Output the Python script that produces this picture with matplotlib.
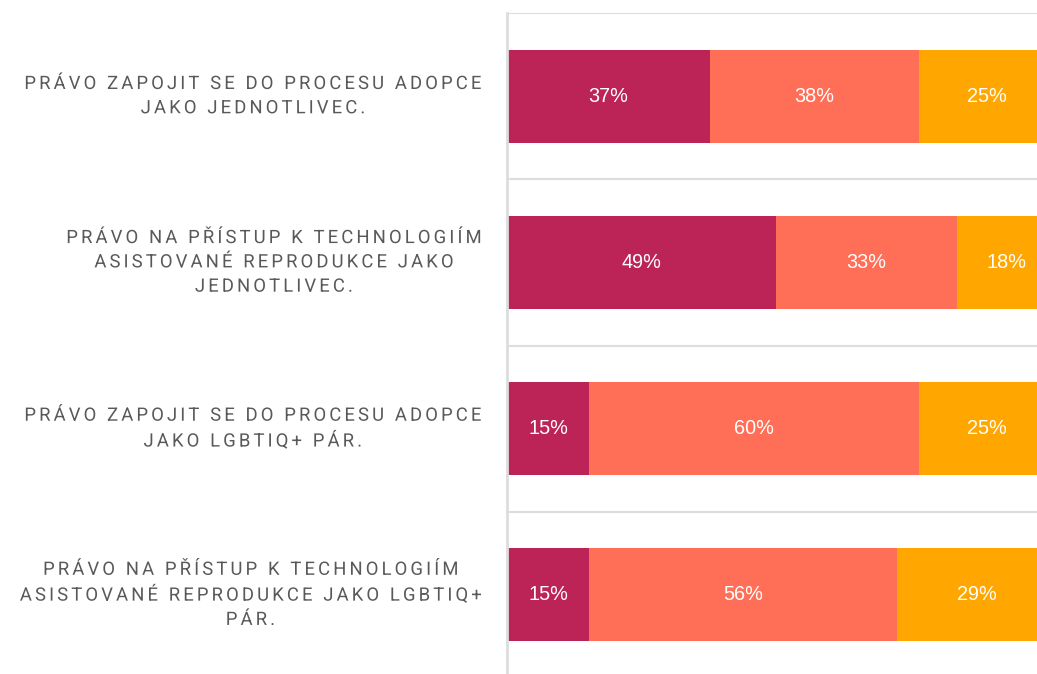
import matplotlib
matplotlib.use("Agg")
import matplotlib.pyplot as plt
import numpy as np
from matplotlib.patheffects import AbstractPathEffect
from matplotlib.path import Path
from matplotlib.transforms import IdentityTransform

categories = [
    "PRÁVO ZAPOJIT SE DO PROCESU ADOPCE\nJAKO JEDNOTLIVEC.",
    "PRÁVO NA PŘÍSTUP K TECHNOLOGIÍM\nASISTOVANÉ REPRODUKCE JAKO\nJEDNOTLIVEC.",
    "PRÁVO ZAPOJIT SE DO PROCESU ADOPCE\nJAKO LGBTIQ+ PÁR.",
    "PRÁVO NA PŘÍSTUP K TECHNOLOGIÍM\nASISTOVANÉ REPRODUKCE JAKO LGBTIQ+\nPÁR.",
]
series_a = [37, 49, 15, 15]
series_b = [38, 33, 60, 56]
series_c = [25, 18, 25, 29]
series_colors = ["#BC2458", "#FF6F57", "#FFA600"]


class LetterSpacing(AbstractPathEffect):
    """Draws a (right-aligned, centre-multialigned) text with extra letter spacing."""

    def __init__(self, lines, track_px):
        super().__init__()
        self.lines = lines
        self.track = track_px
        self.prop = None

    def draw_path(self, renderer, gc, tpath, affine, rgbFace=None):
        try:
            self._draw(renderer, gc, tpath, affine, rgbFace)
        except Exception:
            renderer.draw_path(gc, tpath, affine, rgbFace)

    def _draw(self, renderer, gc, tpath, affine, rgbFace):
        t2p = renderer._text2path
        font = t2p._get_font(self.prop)
        vt = np.asarray(tpath.vertices)
        found = None
        for line in self.lines:
            ginfo, gmap, _ = t2p.get_glyphs_with_font(font, line)
            vs, idx = [], []
            for i, (gid, xp, yp, sc) in enumerate(ginfo):
                v1 = np.asarray(gmap[gid][0], dtype=float)
                if len(v1):
                    vs.append(v1 * sc + [xp, yp])
                    idx.append(np.full(len(v1), i))
            if not vs:
                continue
            vs = np.concatenate(vs)
            idx = np.concatenate(idx)
            if vs.shape == vt.shape and np.allclose(vs, vt, atol=1e-4):
                found = (line, idx)
                break
        if found is None:
            renderer.draw_path(gc, tpath, affine, rgbFace)
            return
        line, idx = found
        t = self.track
        ws = [renderer.get_text_width_height_descent(l, self.prop, ismath=False)[0]
              for l in self.lines]
        W = max(ws)
        Wp = max(w + len(l) * t for w, l in zip(ws, self.lines))
        dx = -(Wp - W) / 2 - len(line) * t / 2
        disp = affine.transform(vt)
        disp[:, 0] += idx * t + dx
        renderer.draw_path(gc, Path(disp, tpath.codes), IdentityTransform(), rgbFace)


W_PX, H_PX = 1037, 674
fig = plt.figure(figsize=(W_PX / 100, H_PX / 100), dpi=100)
fig.patch.set_facecolor("white")

left_px, right_px = 507, 1056
top_px, bottom_px = 13, 678
ax = fig.add_axes([left_px / W_PX, 1 - bottom_px / H_PX,
                   (right_px - left_px) / W_PX, (bottom_px - top_px) / H_PX])
ax.set_xlim(0, 100)
ax.set_ylim(len(categories) - 0.5, -0.5)

y = np.arange(len(categories))
bar_h = 0.56
left = np.zeros(len(categories))
for vals, col in zip([series_a, series_b, series_c], series_colors):
    vals = np.array(vals, dtype=float)
    bars = ax.barh(y, vals, left=left, height=bar_h, color=col, edgecolor="none", zorder=2)
    for b, v in zip(bars, vals):
        cx = b.get_x() + b.get_width() / 2
        ax.text(cx, b.get_y() + b.get_height() / 2, f"{int(v)}%",
                ha="center", va="center", color="white",
                fontsize=14.3, family=["Liberation Sans", "DejaVu Sans"], zorder=3)
    left += vals

# category separators
for b in np.arange(-0.5, len(categories) + 0.5, 1.0):
    ax.axhline(b, color="#DDDDDD", lw=1.5, zorder=1)

for s in ["top", "right", "bottom"]:
    ax.spines[s].set_visible(False)
ax.spines["left"].set_color("#DDDDDD")
ax.spines["left"].set_linewidth(2)
ax.set_xticks([])
ax.set_yticks([])

# category labels (letter-spaced, as in the reference)
for yi, lab in zip(y, categories):
    eff = LetterSpacing(lab.split("\n"), 3.1)
    t = ax.annotate(lab, xy=(0, yi), xycoords=("axes fraction", "data"),
                    xytext=(-23, 0), textcoords="offset pixels",
                    ha="right", va="center", ma="center",
                    fontsize=13.3, color="#595959", family=["Roboto", "DejaVu Sans"],
                    linespacing=1.45, annotation_clip=False)
    eff.prop = t.get_fontproperties()
    t.set_path_effects([eff])

fig.savefig("out.png", dpi=100, facecolor="white")
